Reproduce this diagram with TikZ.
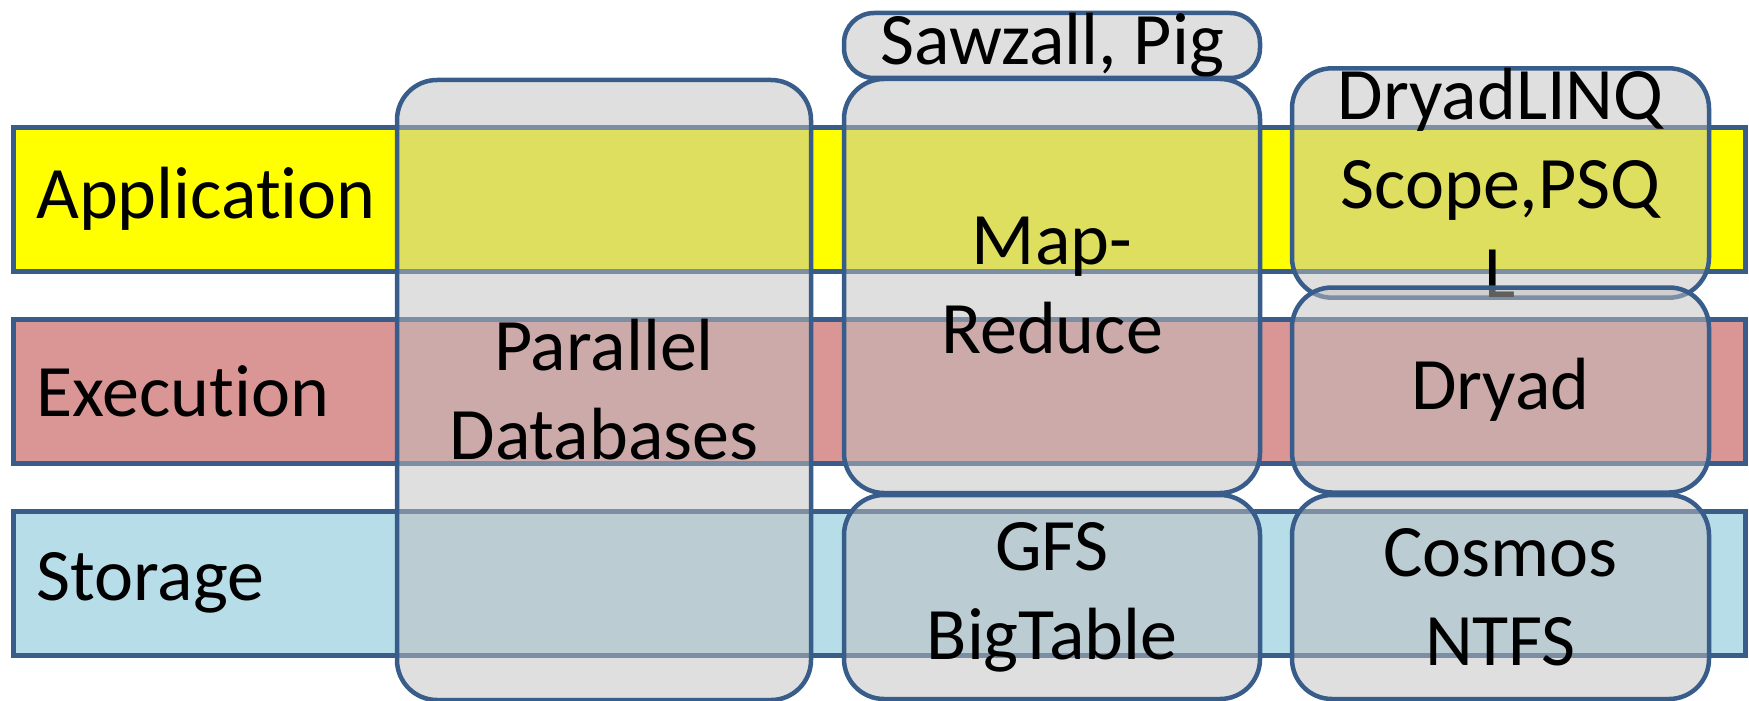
\documentclass[tikz,border=0pt]{standalone}
\usepackage{fontspec}
\setmainfont[Ligatures=NoCommon]{Carlito}
\definecolor{appY}{HTML}{FFFF00}
\definecolor{exeR}{HTML}{D99694}
\definecolor{stoB}{HTML}{B7DDE8}
\definecolor{edge}{HTML}{385D8A}
\definecolor{boxG}{HTML}{BFBFBF}
\begin{document}
\begin{tikzpicture}[x=1pt,y=-1pt,
  band/.style={draw=edge, line width=4.5pt, rectangle, minimum width=1732pt, minimum height=144pt, inner sep=0pt, anchor=north west},
  lbl/.style={anchor=west, inner sep=0pt, font=\fontsize{74}{89}\selectfont},
  box/.style={draw=edge, line width=4.5pt, fill=boxG, fill opacity=0.5, text opacity=1, draw opacity=1,
     rounded corners=40pt, rectangle, inner sep=0pt, align=center, font=\fontsize{74}{89}\selectfont}
]
\useasboundingbox (0,0) rectangle (1749,701);
% layer bands
\node[band, fill=appY] (app) at (11,125) {};
\node[band, fill=exeR] (exe) at (11,317) {};
\node[band, fill=stoB] (sto) at (11,509) {};
\node[lbl] (appl) at (36,199) {Application};
\node[lbl] (exel) at (36,391) {Execution};
\node[lbl] (stol) at (36,583) {Storage};
% system boxes
\node[box, minimum width=414pt, minimum height=620pt] (pd) at (604,390) {Parallel\\Databases};
\node[box, minimum width=416pt, minimum height=65pt, rounded corners=30pt] (saw) at (1052,45.5) {Sawzall, Pig};
\node[box, minimum width=416pt, minimum height=414pt] (mr) at (1052,286) {Map-\\Reduce};
\node[box, minimum width=416pt, minimum height=204pt] (gfs) at (1052,597) {GFS\\BigTable};
\node[box, minimum width=417pt, minimum height=207pt] (dl) at (1500.5,183) {DryadLINQ\\Scope,PSQ\\L};
\node[box, minimum width=417pt, minimum height=205pt] (dr) at (1500.5,390) {Dryad};
\node[box, minimum width=417pt, minimum height=204pt] (cos) at (1500.5,597) {Cosmos\\NTFS};
\end{tikzpicture}
\end{document}
